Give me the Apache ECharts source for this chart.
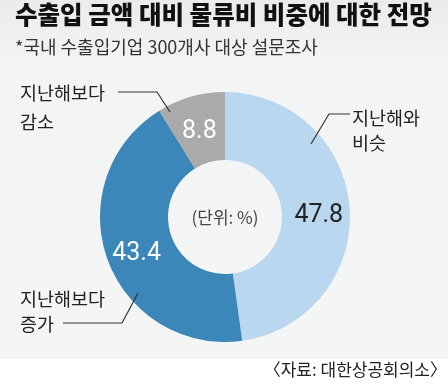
<!DOCTYPE html>
<html>
<head>
<meta charset="utf-8">
<script src="https://cdn.jsdelivr.net/npm/echarts@6/dist/echarts.min.js"></script>
<style>html,body{margin:0;padding:0;background:#fff;}#c{width:448px;height:388px;}</style>
</head>
<body>
<div id="c"></div>
<script>
var categories = ['지난해와\n비슷', '지난해보다\n증가', '지난해보다\n감소'];
var values = [47.8, 43.4, 8.8];
var colors = ['#b9d7ef', '#3b87ba', '#aaaaaa'];
var labelColors = ['#222222', '#ffffff', '#ffffff'];
var titleText = '수출입 금액 대비 물류비 비중에 대한 전망';
var subtitleText = '*국내 수출입기업 300개사 대상 설문조사';
var unitText = '(단위: %)';
var sourceText = '〈자료: 대한상공회의소〉';

var KR = "'Noto Sans CJK KR', 'Noto Sans', sans-serif";
var chart = echarts.init(document.getElementById('c'), null, {renderer: 'canvas'});

var lineStyle = {stroke: '#333', lineWidth: 1.2, fill: null};

var option = {
  backgroundColor: '#ffffff',
  animation: false,
  graphic: [
    {type: 'rect', z: -10, silent: true, shape: {x: 0, y: 0, width: 448, height: 359},
     style: {fill: new echarts.graphic.LinearGradient(0, 0, 0, 1, [
       {offset: 0, color: '#eaebeb'}, {offset: 0.18, color: '#f3f4f4'}, {offset: 1, color: '#f4f5f5'}])}},
    {type: 'text', style: {x: 15, y: 15, text: titleText, font: '900 24.5px ' + KR, fill: '#111', textVerticalAlign: 'middle'}},
    {type: 'text', style: {x: 15, y: 47, text: subtitleText, font: '18px ' + KR, fill: '#333', textVerticalAlign: 'middle'}},
    {type: 'text', style: {x: 447, y: 370, text: sourceText, font: '17px ' + KR, fill: '#222', textAlign: 'right', textVerticalAlign: 'middle'}},
    {type: 'text', z: 10, style: {x: 225, y: 218, text: unitText, font: '17px ' + KR, fill: '#444', textAlign: 'center', textVerticalAlign: 'middle'}},
    {type: 'text', style: {x: 20, y: 107, text: categories[2], font: '18.5px ' + KR, fill: '#222', textVerticalAlign: 'middle', lineHeight: 29}},
    {type: 'text', style: {x: 352, y: 130, text: categories[0], font: '18.5px ' + KR, fill: '#222', textVerticalAlign: 'middle', lineHeight: 25}},
    {type: 'text', style: {x: 20, y: 311, text: categories[1], font: '18.5px ' + KR, fill: '#222', textVerticalAlign: 'middle', lineHeight: 25}},
    {type: 'polyline', z: 10, shape: {points: [[118, 92], [157, 92], [170, 112]]}, style: lineStyle},
    {type: 'polyline', z: 10, shape: {points: [[350, 114], [329, 114], [311, 144]]}, style: lineStyle},
    {type: 'polyline', z: 10, shape: {points: [[63, 323], [122, 323], [138, 293]]}, style: lineStyle}
  ],
  series: [{
    type: 'pie',
    center: [225, 217],
    radius: [57, 125],
    startAngle: 90,
    clockwise: true,
    silent: true,
    avoidLabelOverlap: false,
    label: {show: true, position: 'inside', fontFamily: 'Roboto', fontSize: 25, offset: [0, 5],
            formatter: function (p) { return p.value.toFixed(1); }},
    labelLine: {show: false},
    itemStyle: {borderWidth: 0},
    data: values.map(function (v, i) {
      return {name: categories[i], value: v, itemStyle: {color: colors[i]}, label: {color: labelColors[i]}};
    })
  }]
};
chart.setOption(option);
</script>
</body>
</html>
